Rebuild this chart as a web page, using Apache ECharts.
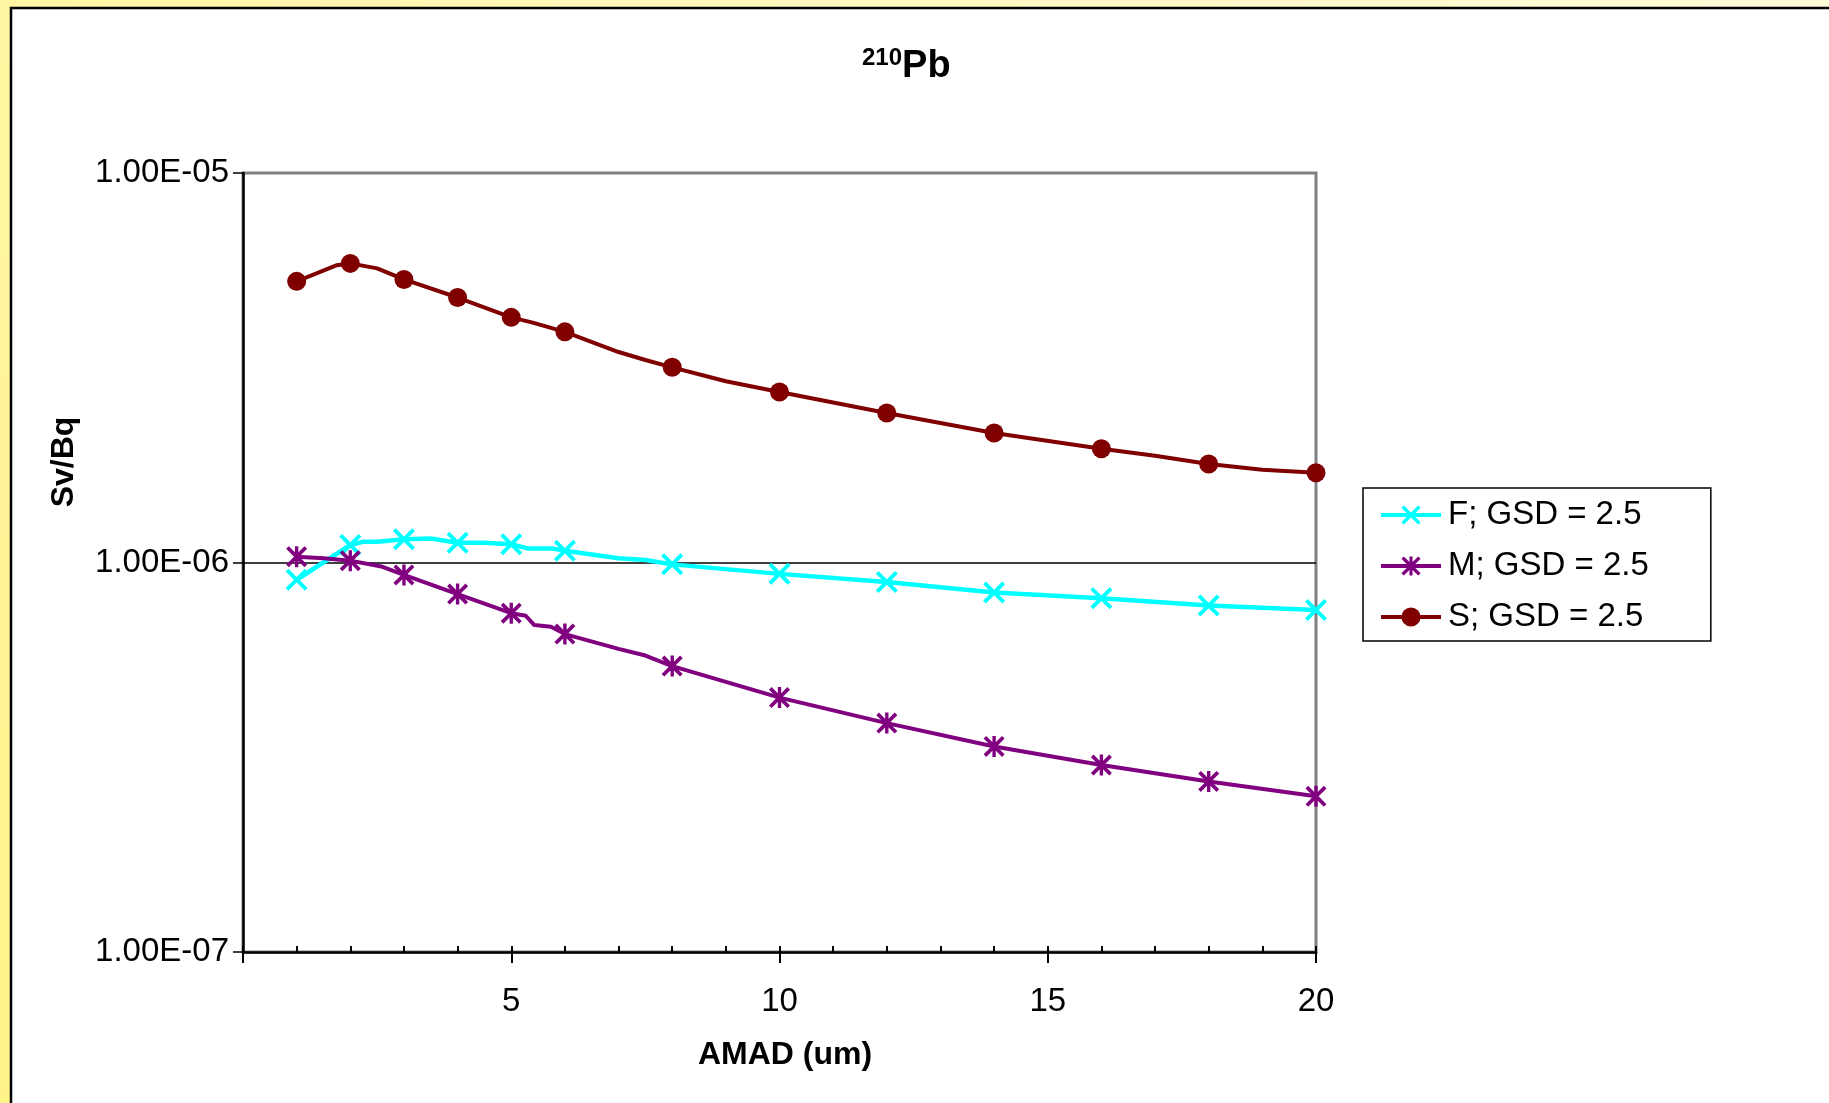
<!DOCTYPE html>
<html>
<head>
<meta charset="utf-8">
<script src="https://cdn.jsdelivr.net/npm/echarts@6/dist/echarts.min.js"></script>
<style>html,body{margin:0;padding:0;background:#fff}#c{width:1829px;height:1103px}</style>
</head>
<body>
<div id="c"></div>
<script>
// ---- data ----
const amad = [1, 2, 3, 4, 5, 6, 8, 10, 12, 14, 16, 18, 20];
const fValues = [9.03e-7, 1.109e-6, 1.147e-6, 1.124e-6, 1.114e-6, 1.072e-6, 9.89e-7, 9.35e-7, 8.91e-7, 8.37e-7, 8.09e-7, 7.76e-7, 7.55e-7];
const mValues = [1.035e-6, 1.011e-6, 9.29e-7, 8.30e-7, 7.41e-7, 6.55e-7, 5.42e-7, 4.50e-7, 3.87e-7, 3.37e-7, 3.02e-7, 2.74e-7, 2.51e-7];
const sValues = [5.27e-6, 5.86e-6, 5.33e-6, 4.79e-6, 4.26e-6, 3.91e-6, 3.17e-6, 2.74e-6, 2.42e-6, 2.15e-6, 1.96e-6, 1.79e-6, 1.70e-6];
// extra (unmarked) line points where the curves bend
const fBendX = [2.25, 2.5, 3.5, 4.5, 5.3, 5.75, 7.0, 7.5];
const fBendY = [1.131e-6, 1.131e-6, 1.153e-6, 1.124e-6, 1.087e-6, 1.087e-6, 1.025e-6, 1.015e-6];
const mBendX = [1.5, 2.6, 5.27, 5.43, 5.74, 7.0, 7.5];
const mBendY = [1.025e-6, 9.75e-7, 7.30e-7, 6.91e-7, 6.84e-7, 6.0e-7, 5.77e-7];
const sBendX = [1.75, 2.5, 5.4, 7.0, 7.5, 9.0, 17.0, 19.0];
const sBendY = [5.80e-6, 5.69e-6, 4.13e-6, 3.47e-6, 3.31e-6, 2.92e-6, 1.88e-6, 1.73e-6];
const seriesNames = ['F; GSD = 2.5', 'M; GSD = 2.5', 'S; GSD = 2.5'];
const yTickLabels = ['1.00E-07', '1.00E-06', '1.00E-05'];
const xTickLabels = ['', '5', '10', '15', '20'];

const FONT = 'Arial, "Liberation Sans", sans-serif';
const crossPath = 'path://M0,2.5L2.5,0L10,7.5L17.5,0L20,2.5L12.5,10L20,17.5L17.5,20L10,12.5L2.5,20L0,17.5L7.5,10Z';
const starPath = 'path://M0,2.5L2.5,0L10,7.5L17.5,0L20,2.5L12.5,10L20,17.5L17.5,20L10,12.5L2.5,20L0,17.5L7.5,10Z M8.4,0L11.6,0L11.6,20L8.4,20Z';

function build(xs, ys, bx, by) {
  const pts = xs.map((x, i) => ({ value: [x, ys[i]] }));
  bx.forEach((x, i) => pts.push({ value: [x, by[i]], symbol: 'none' }));
  pts.sort((a, b) => a.value[0] - b.value[0]);
  return pts;
}

const chart = echarts.init(document.getElementById('c'), null, { renderer: 'canvas' });
chart.setOption({
  animation: false,
  backgroundColor: 'transparent',
  graphic: [
    { type: 'rect', z: -100, shape: { x: 0, y: 0, width: 1829, height: 1103 },
      style: { fill: new echarts.graphic.LinearGradient(0, 1, 1, 0, [
        { offset: 0, color: '#FFF38A' }, { offset: 0.5, color: '#FFF7B8' }, { offset: 1, color: '#FFFBD8' }]) } },
    { type: 'rect', z: -99, shape: { x: 11, y: 8, width: 1840, height: 1110 },
      style: { fill: '#FFFFFF', stroke: '#000000', lineWidth: 2.5 } },
    { type: 'text', x: 64, y: 462, rotation: Math.PI / 2,
      style: { text: 'Sv/Bq', font: 'bold 32px ' + FONT, fill: '#000', textAlign: 'center', textVerticalAlign: 'middle' } },
    { type: 'text', x: 785, y: 1055,
      style: { text: 'AMAD (um)', font: 'bold 32px ' + FONT, fill: '#000', textAlign: 'center', textVerticalAlign: 'middle' } }
  ],
  title: {
    text: '{s|210}{p|Pb}',
    left: 862, top: 46, padding: 0,
    textStyle: {
      rich: {
        s: { fontSize: 24, fontWeight: 'bold', fontFamily: FONT, color: '#000', verticalAlign: 'top', lineHeight: 42 },
        p: { fontSize: 38, fontWeight: 'bold', fontFamily: FONT, color: '#000', lineHeight: 42 }
      }
    }
  },
  legend: {
    orient: 'vertical',
    left: 1363, top: 488,
    padding: [9, 62, 6, 16],
    itemGap: 15,
    itemWidth: 60, itemHeight: 24,
    backgroundColor: '#FFFFFF',
    borderColor: '#000000', borderWidth: 1.5, borderRadius: 0,
    lineStyle: { width: 4 },
    textStyle: { fontSize: 33, fontFamily: FONT, color: '#000', lineHeight: 36, padding: [0, 0, 0, 2] },
    data: seriesNames
  },
  grid: { left: 243, top: 173, width: 1073, height: 779, show: true, borderColor: '#808080', borderWidth: 3, backgroundColor: 'transparent', containLabel: false },
  xAxis: [
    { type: 'value', min: 0, max: 20, interval: 5, position: 'bottom',
      axisLine: { show: true, onZero: false, lineStyle: { color: '#000', width: 2.5 } },
      axisTick: { show: true, inside: false, length: 11, lineStyle: { color: '#000', width: 2 } },
      axisLabel: { margin: 33, fontSize: 33, fontFamily: FONT, color: '#000',
        formatter: v => xTickLabels[Math.round(v / 5)] },
      splitLine: { show: false } },
    { type: 'value', min: 0, max: 20, interval: 1, position: 'bottom',
      axisLine: { show: false },
      axisTick: { show: true, inside: true, length: 6, lineStyle: { color: '#000', width: 2 } },
      axisLabel: { show: false },
      splitLine: { show: false } }
  ],
  yAxis: {
    type: 'log', logBase: 10, min: 1e-7, max: 1e-5, interval: 1,
    axisLine: { show: true, lineStyle: { color: '#000', width: 2.5 } },
    axisTick: { show: true, inside: false, length: 10, lineStyle: { color: '#000', width: 1.5 } },
    axisLabel: { margin: 14, fontSize: 33, fontFamily: FONT, color: '#000',
      formatter: v => yTickLabels[Math.round(Math.log10(v)) + 7] },
    splitLine: { show: true, showMinLine: false, showMaxLine: false, lineStyle: { color: '#000', width: 1.5 } }
  },
  series: [
    { name: seriesNames[0], type: 'line', xAxisIndex: 0, data: build(amad, fValues, fBendX, fBendY),
      symbol: crossPath, symbolSize: 22, showAllSymbol: true,
      lineStyle: { color: '#00FFFF', width: 4.5 }, itemStyle: { color: '#00FFFF' }, z: 3 },
    { name: seriesNames[1], type: 'line', xAxisIndex: 0, data: build(amad, mValues, mBendX, mBendY),
      symbol: starPath, symbolSize: 21, showAllSymbol: true,
      lineStyle: { color: '#800080', width: 4 }, itemStyle: { color: '#800080' }, z: 4 },
    { name: seriesNames[2], type: 'line', xAxisIndex: 0, data: build(amad, sValues, sBendX, sBendY),
      symbol: 'circle', symbolSize: 19, showAllSymbol: true,
      lineStyle: { color: '#800000', width: 4 }, itemStyle: { color: '#800000' }, z: 5 }
  ]
});
</script>
</body>
</html>
